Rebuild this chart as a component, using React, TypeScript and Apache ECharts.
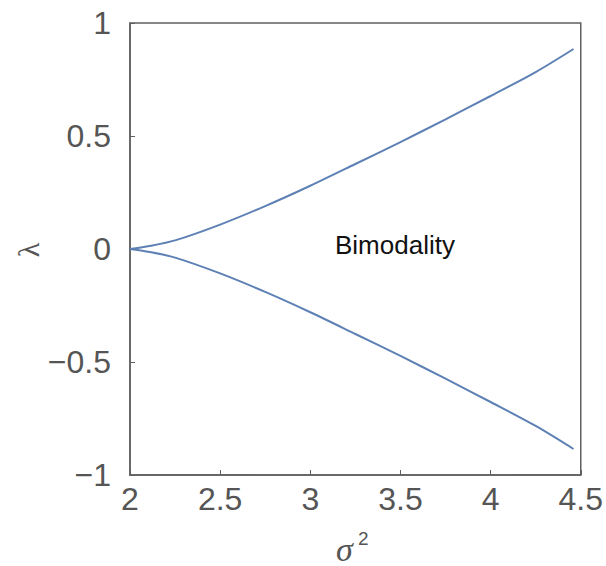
import React, { useEffect, useRef } from "react";
import * as echarts from "echarts";

const sigma2 = [2.0, 2.1, 2.25, 2.5, 2.75, 3.0, 3.25, 3.5, 3.75, 4.0, 4.25, 4.46];
const lambdaUpper = [0.0, 0.012, 0.038, 0.108, 0.19, 0.28, 0.376, 0.473, 0.574, 0.677, 0.783, 0.885];
const lambdaLower = lambdaUpper.map((v) => -v);

const xTicks = [2, 2.5, 3, 3.5, 4, 4.5];
const yTicks = [-1, -0.5, 0, 0.5, 1];

const regionLabel = "Bimodality";
const xName = "σ";
const xSup = "2";
const yName = "λ";

export default function App() {
  const ref = useRef<HTMLDivElement>(null);
  useEffect(() => {
    if (!ref.current) return;
    const chart = echarts.init(ref.current, null, { renderer: "svg" });
    const fmt = (v: number) => String(v).replace("-", "−");
    const lineColor = "#5e81b5";
    const font = "Liberation Sans, Arial, sans-serif";
    chart.setOption({
      animation: false,
      backgroundColor: "#ffffff",
      grid: {
        left: 130,
        right: 22,
        top: 23,
        bottom: 91,
        show: true,
        borderColor: "#5f5f5f",
        borderWidth: 1.5,
        backgroundColor: "transparent",
      },
      xAxis: {
        type: "value",
        min: xTicks[0],
        max: xTicks[xTicks.length - 1],
        interval: 0.5,
        axisLine: { show: true, onZero: false, lineStyle: { color: "#5f5f5f", width: 1.5 } },
        axisTick: { show: true, inside: true, length: 5, lineStyle: { color: "#5f5f5f" } },
        splitLine: { show: false },
        axisLabel: {
          formatter: fmt,
          color: "#555555",
          fontSize: 32,
          fontFamily: font,
          margin: 8,
        },
      },
      yAxis: {
        type: "value",
        min: yTicks[0],
        max: yTicks[yTicks.length - 1],
        interval: 0.5,
        axisLine: { show: true, onZero: false, lineStyle: { color: "#5f5f5f", width: 1.5 } },
        axisTick: { show: true, inside: true, length: 5, lineStyle: { color: "#5f5f5f" } },
        splitLine: { show: false },
        axisLabel: {
          formatter: fmt,
          color: "#555555",
          fontSize: 32,
          fontFamily: font,
          margin: 19,
        },
      },
      series: [
        {
          type: "line",
          data: sigma2.map((x, i) => [x, lambdaUpper[i]]),
          smooth: 0.3,
          showSymbol: false,
          lineStyle: { color: lineColor, width: 2 },
        },
        {
          type: "line",
          data: sigma2.map((x, i) => [x, lambdaLower[i]]),
          smooth: 0.3,
          showSymbol: false,
          lineStyle: { color: lineColor, width: 2 },
        },
      ],
      graphic: [
        {
          type: "text",
          x: 335,
          y: 245,
          style: {
            text: regionLabel,
            fill: "#111111",
            fontSize: 26,
            fontFamily: font,
            verticalAlign: "middle",
          },
        },
        {
          type: "text",
          x: 336,
          y: 566,
          style: {
            text: xName,
            fill: "#555555",
            fontSize: 34,
            fontStyle: "italic",
            fontFamily: "Liberation Serif, serif",
            verticalAlign: "bottom",
          },
        },
        {
          type: "text",
          x: 358,
          y: 548,
          style: {
            text: xSup,
            fill: "#555555",
            fontSize: 19,
            fontFamily: font,
            verticalAlign: "bottom",
          },
        },
        {
          type: "text",
          x: 28,
          y: 250,
          rotation: Math.PI / 2,
          style: {
            text: yName,
            fill: "#555555",
            fontSize: 30,
            fontFamily: "Liberation Serif, serif",
            align: "center",
            verticalAlign: "middle",
          },
        },
      ],
    });
    return () => chart.dispose();
  }, []);
  return (
    <div
      ref={ref}
      style={{ position: "absolute", left: 0, top: 0, width: 606, height: 566 }}
    />
  );
}
